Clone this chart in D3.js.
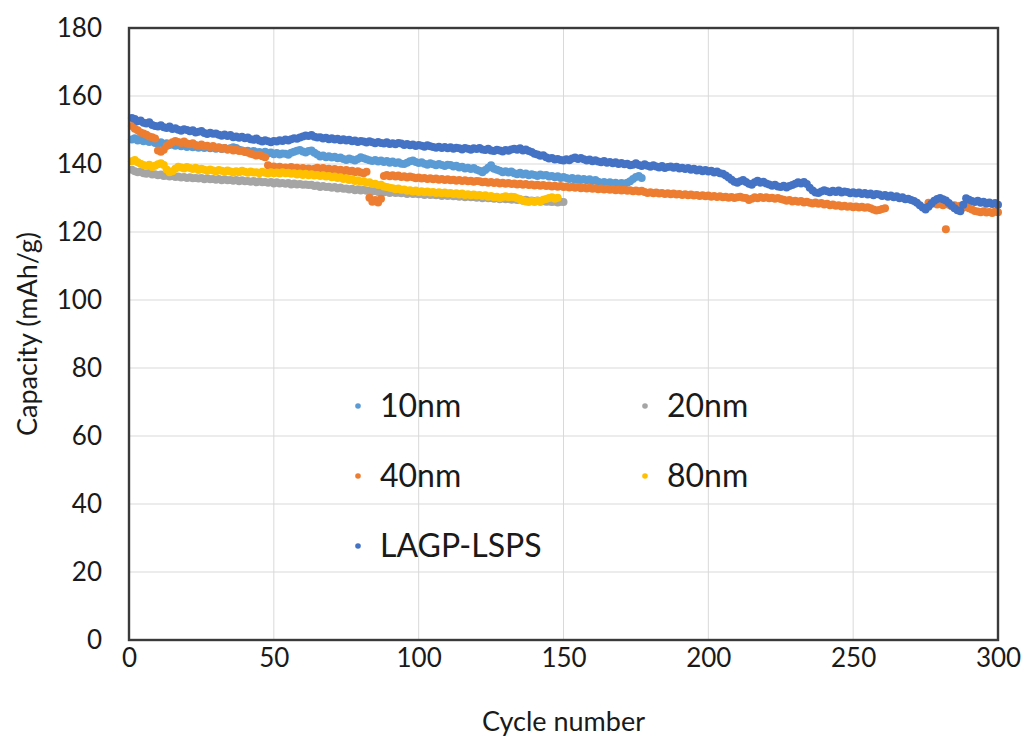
<!DOCTYPE html>
<html>
<head>
<meta charset="utf-8">
<script src="https://cdn.jsdelivr.net/npm/d3@7"></script>
<style>
  html, body { margin: 0; padding: 0; background: #ffffff; }
  svg text { font-family: Lato, "Liberation Sans", sans-serif; fill: #1a1a1a; }
</style>
</head>
<body>
<svg id="chart" width="1026" height="742"></svg>
<script>
// Discharge capacity (mAh/g) per cycle, first value = cycle 1
const cap10nm = [
  147.2, 147.6, 146.9, 147.3, 146.7, 147.0, 146.5, 146.8, 146.2, 146.0,
  146.4, 145.9, 146.1, 145.6, 145.8, 145.4, 145.7, 145.2, 145.5, 145.0,
  145.3, 144.9, 145.2, 144.8, 145.0, 144.7, 145.1, 144.6, 144.9, 144.5,
  144.8, 144.4, 144.7, 144.3, 144.6, 144.9, 144.7, 144.2, 144.0, 143.7,
  143.9, 143.5, 143.8, 143.4, 143.5, 143.2, 143.6, 143.1, 143.4, 142.9,
  143.2, 142.8, 143.1, 143.0, 142.7, 143.3, 143.6, 143.9, 144.1, 143.7,
  143.4, 143.8, 144.0, 143.3, 142.8, 142.2, 142.5, 142.0, 142.3, 141.9,
  142.1, 141.7, 141.9, 141.5, 141.2, 141.6, 141.3, 141.0, 141.5, 142.0,
  141.7, 141.4, 141.1, 140.9, 141.2, 140.7, 141.0, 140.6, 140.9, 140.4,
  140.7, 140.3, 140.5, 140.1, 140.0, 140.4, 140.8, 141.0, 140.6, 140.3,
  140.5, 140.1, 139.8, 140.2, 139.9, 139.6, 140.0, 139.7, 139.4, 139.8,
  139.7, 139.3, 139.5, 139.0, 139.2, 138.7, 138.9, 138.5, 138.8, 138.3,
  138.0, 137.6, 138.2, 138.9, 139.6, 138.6, 138.3, 138.0, 137.6, 137.9,
  137.5, 137.8, 137.3, 137.0, 137.4, 136.9, 137.2, 136.7, 137.0, 136.8,
  136.5, 136.9, 136.6, 136.8, 136.3, 136.5, 136.1, 136.4, 135.9, 136.2,
  135.9, 135.6, 135.9, 135.4, 135.7, 135.3, 135.6, 135.2, 135.5, 135.0,
  135.3, 134.8, 134.4, 134.7, 134.3, 134.6, 134.2, 134.5, 134.1, 134.4,
  134.2, 134.5, 134.9, 135.6, 136.2, 136.5, 135.9
];

const cap20nm = [
  138.3, 137.9, 137.6, 137.8, 137.3, 137.1, 137.4, 136.9, 137.0, 136.7,
  136.9, 136.5, 136.6, 136.3, 136.5, 136.2, 136.3, 136.0, 136.2, 135.9,
  136.1, 135.8, 135.9, 135.7, 135.9, 135.5, 135.8, 135.5, 135.6, 135.4,
  135.6, 135.2, 135.5, 135.2, 135.3, 135.1, 135.3, 134.9, 135.2, 134.9,
  135.0, 134.8, 135.0, 134.6, 134.9, 134.6, 134.7, 134.5, 134.7, 134.3,
  134.6, 134.3, 134.4, 134.2, 134.4, 134.0, 134.3, 134.0, 134.1, 133.9,
  134.0, 133.8, 133.9, 133.5, 133.7, 133.2, 133.5, 133.2, 133.3, 133.0,
  133.2, 132.8, 133.1, 132.7, 132.8, 132.5, 132.7, 132.3, 132.6, 132.2,
  132.4, 132.1, 132.2, 131.9, 132.1, 131.8, 131.9, 131.7, 131.9, 131.5,
  131.8, 131.5, 131.6, 131.4, 131.6, 131.2, 131.5, 131.2, 131.3, 131.1,
  131.3, 130.9, 131.2, 130.9, 131.0, 130.8, 131.0, 130.6, 130.9, 130.6,
  130.8, 130.5, 130.6, 130.4, 130.6, 130.2, 130.5, 130.2, 130.3, 130.1,
  130.3, 129.9, 130.2, 129.9, 130.0, 129.8, 130.0, 129.6, 129.9, 129.6,
  129.8, 129.5, 129.6, 129.4, 129.6, 129.2, 129.5, 129.2, 129.3, 129.1,
  129.3, 128.9, 129.2, 128.9, 129.0, 128.8, 129.0, 128.7, 128.9, 128.8
];

// cycles 262-275 were not recorded for this cell
const cap40nm = [
  151.2, 150.4, 149.9, 149.3, 149.0, 148.6, 148.1, 147.9, 147.5, 144.0,
  143.6, 144.2, 145.3, 145.9, 146.4, 146.8, 146.5, 146.2, 146.6, 146.0,
  145.8, 146.1, 145.6, 145.3, 145.7, 145.2, 145.4, 145.0, 145.3, 144.8,
  144.9, 144.5, 144.7, 144.3, 144.5, 144.0, 144.2, 143.8, 143.9, 143.5,
  143.4, 143.0, 142.8, 142.5, 142.7, 142.3, 142.0, 139.6, 139.1, 139.3,
  138.9, 139.2, 138.8, 139.0, 138.6, 139.1, 138.7, 138.9, 138.5, 138.8,
  138.4, 138.7, 138.3, 138.6, 138.9, 138.5, 138.8, 138.4, 138.6, 138.2,
  138.5, 138.1, 138.3, 137.9, 138.2, 137.8, 138.0, 137.6, 137.9, 137.5,
  137.3, 137.7, 130.1, 128.9, 129.4, 128.7, 129.8, 136.5, 136.8, 136.4,
  136.7, 136.3, 136.6, 136.2, 136.4, 136.0, 136.3, 136.1, 135.8, 136.0,
  135.7, 135.9, 135.6, 135.8, 135.5, 135.7, 135.4, 135.6, 135.3, 135.5,
  135.2, 135.4, 135.1, 135.3, 135.0, 135.2, 134.9, 135.1, 134.8, 135.0,
  134.9, 134.6, 134.8, 134.5, 134.7, 134.4, 134.6, 134.3, 134.5, 134.2,
  134.4, 134.1, 134.3, 134.0, 134.2, 133.9, 134.1, 133.8, 134.0, 133.7,
  133.9, 133.6, 133.8, 133.5, 133.7, 133.4, 133.6, 133.3, 133.5, 133.2,
  133.4, 133.1, 133.3, 133.0, 133.2, 132.9, 133.1, 132.8, 133.0, 132.7,
  132.9, 132.6, 132.8, 132.5, 132.7, 132.4, 132.6, 132.3, 132.5, 132.2,
  132.4, 132.1, 132.3, 132.0, 132.2, 131.9, 132.1, 131.8, 131.5, 131.7,
  131.4, 131.6, 131.3, 131.5, 131.2, 131.4, 131.1, 131.3, 131.0, 131.2,
  130.9, 131.1, 130.8, 131.0, 130.7, 130.9, 130.6, 130.8, 130.5, 130.7,
  130.4, 130.6, 130.3, 130.5, 130.2, 130.4, 130.1, 130.3, 130.0, 130.2,
  130.4, 130.1, 130.0, 129.4, 129.8, 130.2, 129.9, 130.3, 130.0, 130.2,
  129.9, 130.1, 129.8, 130.0, 129.7, 129.5, 129.2, 129.4, 129.0, 129.2,
  128.9, 129.1, 128.7, 128.9, 128.6, 128.4, 128.7, 128.3, 128.5, 128.1,
  128.3, 127.9, 128.1, 127.7, 127.9, 127.5, 127.7, 127.4, 127.6, 127.3,
  127.5, 127.2, 127.4, 127.1, 127.3, 127.0, 126.6, 126.3, 126.5, 126.8,
  127.0, null, null, null, null, null, null, null, null, null,
  null, null, null, null, null, 128.6, 128.3, 128.7, 128.1, 128.4,
  127.9, 120.8, 128.0, 127.6, 127.9, 127.4, 127.7, 127.2, 127.5, 127.0,
  126.6, 126.2, 126.0, 125.8, 126.1, 125.7, 125.9, 125.6, 126.0, 125.8
];

const cap80nm = [
  140.8, 141.2, 140.5, 140.1, 139.7, 139.4, 139.8, 139.1, 139.5, 139.9,
  140.2, 139.7, 138.4, 137.6, 137.9, 138.6, 139.2, 139.0, 138.7, 139.1,
  138.8, 138.5, 138.9, 138.2, 138.6, 138.3, 138.0, 138.4, 138.1, 137.8,
  138.2, 138.0, 137.7, 138.1, 137.8, 137.5, 137.9, 137.6, 138.0, 137.7,
  137.4, 137.8, 137.5, 137.6, 137.3, 137.7, 137.4, 137.2, 137.6, 137.3,
  137.5, 137.2, 137.6, 137.3, 137.4, 137.1, 137.3, 136.9, 137.2, 136.8,
  137.1, 136.7, 137.0, 136.6, 136.8, 136.5, 136.7, 136.3, 136.5, 136.1,
  136.3, 135.9, 136.1, 135.6, 135.8, 135.3, 135.5, 135.0, 135.2, 134.8,
  134.9, 134.5, 134.6, 134.1, 134.2, 133.8, 133.9, 133.4, 133.2, 133.0,
  132.9, 132.6, 132.8, 132.4, 132.5, 132.1, 132.3, 131.9, 132.2, 131.8,
  132.0, 131.7, 131.9, 131.6, 131.8, 131.5, 131.7, 131.4, 131.6, 131.3,
  131.5, 131.2, 131.4, 131.0, 131.3, 130.9, 131.1, 130.8, 131.0, 130.7,
  130.9, 130.6, 130.8, 130.4, 130.6, 130.2, 130.4, 130.0, 130.3, 130.5,
  130.2, 130.4, 130.3, 129.9, 129.6, 129.3, 129.0, 128.8, 129.1, 128.8,
  129.2, 129.0, 129.5, 129.7, 130.0, 130.2, 129.8, 130.1
];

const capLAGP = [
  153.5, 153.2, 152.6, 152.8, 152.1, 151.9, 152.3, 151.5, 151.2, 151.0,
  151.4, 150.8, 150.6, 151.0, 150.3, 150.5, 150.1, 149.8, 150.2, 150.0,
  149.6, 149.9, 149.3, 149.5, 149.7, 149.1, 148.8, 149.2, 148.9, 149.0,
  148.6, 148.3, 148.7, 148.2, 148.5, 147.9, 148.1, 147.7, 148.0, 147.6,
  147.8, 147.3, 147.1, 147.5, 146.9, 146.6, 147.0, 146.7, 146.4, 146.8,
  146.6, 147.0, 146.8, 147.2, 146.9, 147.3, 147.6, 147.4, 147.8, 148.1,
  148.4, 148.2, 148.5, 148.0, 147.8, 147.9, 147.5, 147.7, 147.3, 147.6,
  147.2, 147.4, 147.0, 147.3, 146.9, 147.1, 146.7, 146.9, 146.5, 146.8,
  146.6, 146.3, 146.7, 146.4, 146.1, 146.5, 146.2, 146.0, 146.4, 145.9,
  146.1, 145.8, 146.2, 146.0, 145.6, 145.9, 145.5, 145.7, 145.3, 145.6,
  145.4, 145.1, 145.5, 145.2, 145.0, 144.8, 145.1, 144.7, 145.0, 144.6,
  144.9, 144.5, 144.8, 144.6, 144.3, 144.7, 144.5, 144.2, 144.6, 144.4,
  144.7, 144.3, 144.1, 144.5, 144.0, 143.8, 144.2, 144.0, 143.7, 144.1,
  143.9, 144.3, 144.5, 144.2, 144.6, 144.0, 144.3, 143.8, 143.5, 143.0,
  142.8, 142.4, 142.6, 142.0, 141.6, 141.8, 141.3, 141.5, 141.2, 141.0,
  141.4, 141.1, 141.6, 141.9, 141.5, 141.8, 141.4, 141.0, 141.3, 140.8,
  141.1, 140.7, 140.5, 140.9, 140.4, 140.6, 140.2, 140.5, 140.0, 140.3,
  139.9, 140.1, 139.6, 139.8, 140.2, 139.7, 139.4, 139.9, 139.5, 139.2,
  139.6, 139.3, 139.0, 139.4, 138.8, 139.1, 139.3, 138.9, 139.2, 138.7,
  138.9, 138.5, 138.8, 138.3, 138.6, 138.1, 138.4, 137.9, 138.2, 137.8,
  138.0, 137.5, 137.8, 137.3, 137.1, 136.6, 136.0, 135.4, 134.8, 134.5,
  134.9, 135.3, 134.7, 134.2, 133.9, 134.6, 135.1, 134.5, 134.8, 134.3,
  134.0, 133.6, 133.9, 133.4, 133.2, 133.6, 133.1, 133.5, 133.8, 134.2,
  134.6, 134.3, 134.7, 134.1, 133.0, 132.2, 131.6, 131.5, 131.9, 132.3,
  132.0, 131.7, 132.1, 131.8, 132.2, 131.6, 131.9, 131.8, 131.4, 131.7,
  131.3, 131.6, 131.2, 131.5, 131.0, 131.3, 130.8, 131.2, 131.0, 130.6,
  130.9, 130.4, 130.7, 130.2, 130.5, 129.9, 130.2, 129.6, 129.8, 129.4,
  129.1, 128.6, 127.9, 127.2, 126.6, 127.4, 128.3, 129.2, 129.7, 130.0,
  129.6, 129.3, 128.5, 127.8, 127.0, 126.4, 126.1, 128.0, 129.9, 129.5,
  129.1, 128.8, 129.2, 128.6, 128.9, 128.3, 128.7, 128.2, 128.5, 128.0
];

const seriesNames  = ["10nm", "20nm", "40nm", "80nm", "LAGP-LSPS"];
const seriesValues = [cap10nm, cap20nm, cap40nm, cap80nm, capLAGP];
const seriesColors = ["#5b9bd5", "#a5a5a5", "#ed7d31", "#ffc000", "#4472c4"];

const xTicks = [0, 50, 100, 150, 200, 250, 300];
const yTicks = [0, 20, 40, 60, 80, 100, 120, 140, 160, 180];

const svg = d3.select("#chart");
const plot = { left: 129, right: 998, top: 28, bottom: 640 };

const x = d3.scaleLinear().domain([0, 300]).range([plot.left, plot.right]);
const y = d3.scaleLinear().domain([0, 180]).range([plot.bottom, plot.top]);

// gridlines
svg.append("g")
  .selectAll("line")
  .data(yTicks)
  .join("line")
  .attr("x1", plot.left).attr("x2", plot.right)
  .attr("y1", d => y(d)).attr("y2", d => y(d))
  .attr("stroke", "#d9d9d9").attr("stroke-width", 1);

svg.append("g")
  .selectAll("line")
  .data(xTicks)
  .join("line")
  .attr("y1", plot.top).attr("y2", plot.bottom)
  .attr("x1", d => x(d)).attr("x2", d => x(d))
  .attr("stroke", "#d9d9d9").attr("stroke-width", 1);

// data points, drawn in series order so LAGP-LSPS sits on top
seriesValues.forEach((vals, i) => {
  const pts = vals.map((v, k) => ({ c: k + 1, v })).filter(d => d.v !== null);
  svg.append("g")
    .selectAll("circle")
    .data(pts)
    .join("circle")
    .attr("cx", d => x(d.c))
    .attr("cy", d => y(d.v))
    .attr("r", 4)
    .attr("fill", seriesColors[i]);
});

// frame
svg.append("rect")
  .attr("x", plot.left).attr("y", plot.top)
  .attr("width", plot.right - plot.left)
  .attr("height", plot.bottom - plot.top)
  .attr("fill", "none")
  .attr("stroke", "#3a3a3a")
  .attr("stroke-width", 2.4);

// axes
const yAxis = svg.append("g")
  .attr("transform", `translate(${plot.left},0)`)
  .call(d3.axisLeft(y).tickValues(yTicks).tickSize(0).tickPadding(27));
const xAxis = svg.append("g")
  .attr("transform", `translate(0,${plot.bottom})`)
  .call(d3.axisBottom(x).tickValues(xTicks).tickSize(0).tickPadding(9));
[yAxis, xAxis].forEach(g => {
  g.select(".domain").remove();
  g.selectAll("text")
    .style("font-family", "Lato, 'Liberation Sans', sans-serif")
    .style("font-size", "26px")
    .attr("fill", "#1a1a1a");
});

// axis titles
svg.append("text")
  .attr("x", (plot.left + plot.right) / 2)
  .attr("y", 731)
  .attr("text-anchor", "middle")
  .style("font-size", "27px")
  .text("Cycle number");

svg.append("text")
  .attr("transform", `translate(37,${(plot.top + plot.bottom) / 2}) rotate(-90)`)
  .attr("text-anchor", "middle")
  .style("font-size", "27px")
  .text("Capacity (mAh/g)");

// legend (two columns, three rows)
const legendPos = [
  { col: 0, row: 0 }, { col: 1, row: 0 },
  { col: 0, row: 1 }, { col: 1, row: 1 },
  { col: 0, row: 2 }
];
const legend = svg.append("g");
seriesNames.forEach((name, i) => {
  const lx = 358 + legendPos[i].col * 287;
  const ly = 406 + legendPos[i].row * 70;
  legend.append("circle")
    .attr("cx", lx).attr("cy", ly).attr("r", 2.8)
    .attr("fill", seriesColors[i]);
  legend.append("text")
    .attr("x", lx + 22).attr("y", ly)
    .attr("dy", "0.35em")
    .style("font-size", "32px")
    .text(name);
});
</script>
</body>
</html>
